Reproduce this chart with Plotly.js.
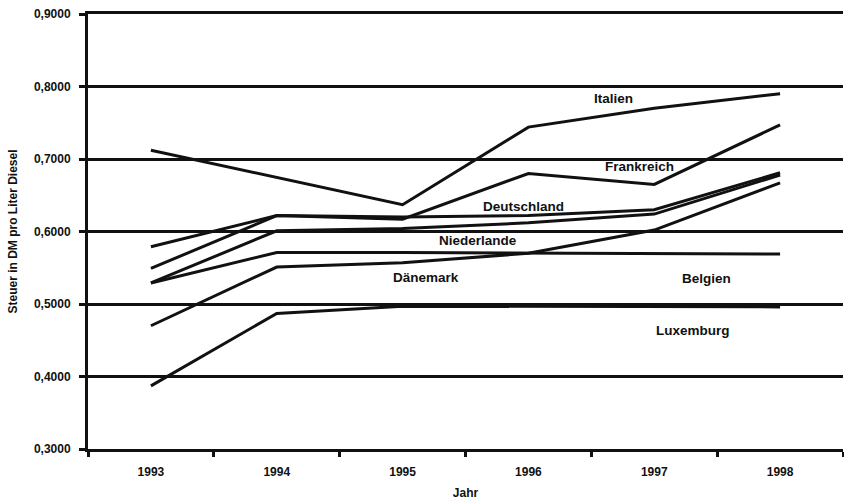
<!DOCTYPE html>
<html>
<head>
<meta charset="utf-8">
<script src="https://cdn.plot.ly/plotly-3.0.1.min.js"></script>
<style>html,body{margin:0;padding:0;background:#fff;}#chart{width:844px;height:504px;}</style>
</head>
<body>
<div id="chart"></div>
<script>
const years = ['1993', '1994', '1995', '1996', '1997', '1998'];
const seriesNames = ['Italien', 'Frankreich', 'Deutschland', 'Niederlande', 'Dänemark', 'Belgien', 'Luxemburg'];
const italien     = [0.712, 0.675, 0.637, 0.744, 0.770, 0.790];
const frankreich  = [0.579, 0.622, 0.617, 0.680, 0.665, 0.747];
const deutschland = [0.549, 0.622, 0.620, 0.622, 0.630, 0.681];
const niederlande = [0.529, 0.601, 0.604, 0.612, 0.624, 0.678];
const daenemark   = [0.470, 0.551, 0.557, 0.570, 0.602, 0.667];
const belgien     = [0.529, 0.571, 0.571, 0.570, 0.569, 0.569];
const luxemburg   = [0.387, 0.487, 0.497, 0.497, 0.497, 0.496];
const yTicks = [0.3, 0.4, 0.5, 0.6, 0.7, 0.8, 0.9];

const allSeries = [italien, frankreich, deutschland, niederlande, daenemark, belgien, luxemburg];

const FONT = {family: '"Liberation Sans", Arial, sans-serif', size: 12, color: '#111', weight: 'bold'};

const traces = allSeries.map((vals, i) => ({
  x: years,
  y: vals,
  name: seriesNames[i],
  type: 'scatter',
  mode: 'lines',
  line: {color: '#111', width: 3},
  hoverinfo: 'x+y+name'
}));

// label anchor positions (category index, value) for the series names
const labelPos = [
  [3.68, 0.784], [3.885, 0.689], [2.96, 0.634], [2.60, 0.587],
  [2.183, 0.536], [4.413, 0.535], [4.306, 0.464]
];
const annotations = seriesNames.map((n, i) => ({
  x: labelPos[i][0], y: labelPos[i][1], xref: 'x', yref: 'y',
  text: n, showarrow: false, font: Object.assign({}, FONT, {size: 13.5}),
  xanchor: 'center', yanchor: 'middle'
}));

const layout = {
  width: 844, height: 504,
  margin: {l: 88, r: 1, t: 14, b: 55, pad: 0},
  paper_bgcolor: '#fff', plot_bgcolor: '#fff',
  showlegend: false,
  font: FONT,
  separators: ',.',
  xaxis: {
    type: 'category',
    categoryarray: years,
    range: [-0.5, 5.5],
    showgrid: false,
    zeroline: false,
    showline: true, linecolor: '#111', linewidth: 3, mirror: true,
    ticks: 'outside', tickson: 'boundaries', ticklen: 5, tickwidth: 3, tickcolor: '#111',
    ticklabelstandoff: 10,
    tickfont: FONT,
    title: {text: 'Jahr', font: FONT, standoff: 11}
  },
  yaxis: {
    range: [0.3, 0.9],
    tickvals: yTicks,
    tickformat: '.4f',
    showgrid: true, gridcolor: '#111', gridwidth: 3,
    zeroline: false,
    showline: true, linecolor: '#111', linewidth: 3,
    ticks: 'outside', ticklen: 6, tickwidth: 3, tickcolor: '#111',
    ticklabelstandoff: 6,
    tickfont: FONT,
    title: {text: 'Steuer in DM pro Liter Diesel', font: FONT, standoff: 14}
  },
  annotations: annotations
};

Plotly.newPlot('chart', traces, layout, {displayModeBar: false, staticPlot: true});
</script>
</body>
</html>
